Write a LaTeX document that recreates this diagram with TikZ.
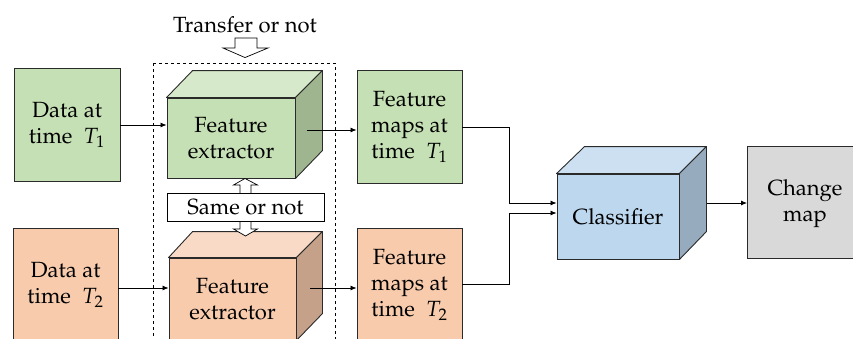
\documentclass[tikz,border=0pt]{standalone}
\usepackage[T1]{fontenc}
\usepackage{mathpazo}
\usetikzlibrary{calc,arrows.meta}
\definecolor{gfront}{HTML}{C5E0B4}
\definecolor{gtop}{HTML}{D6E9CA}
\definecolor{gside}{HTML}{9FB58F}
\definecolor{ofront}{HTML}{F8CBAD}
\definecolor{otop}{HTML}{F9DAC6}
\definecolor{oside}{HTML}{C6A18A}
\definecolor{bfront}{HTML}{BDD7EE}
\definecolor{btop}{HTML}{CCE0F2}
\definecolor{bside}{HTML}{97ABBF}
\definecolor{gray1}{HTML}{D9D9D9}
\definecolor{edge}{HTML}{2A2A2A}
\tikzset{
  box/.style={draw=edge, line width=0.9pt, inner sep=0pt, align=center,
    font=\fontsize{22}{26}\selectfont},
  face/.style={draw=edge, line width=0.9pt, line join=round},
  arr/.style={draw=black, line width=0.8pt, -{Latex[length=6pt,width=5pt]}},
  hollow/.style={draw=black, line width=0.7pt, fill=white, line join=miter},
  lbl/.style={font=\fontsize{22}{26}\selectfont, inner sep=0pt}
}
\begin{document}
\begin{tikzpicture}[x=1pt,y=-1pt]
\useasboundingbox (0,0) rectangle (853,338);
\clip (0,0) rectangle (853,338);
% input data boxes
\node[box, fill=gfront, minimum width=106pt, minimum height=113pt] (d1) at (67,124.5) {Data at\\time\ \ $T_1$};
\node[box, fill=ofront, minimum width=105pt, minimum height=113pt] (d2) at (65.5,284.5) {Data at\\time\ \ $T_2$};
% feature map boxes
\node[box, fill=gfront, minimum width=105pt, minimum height=113pt] (fm1) at (409.5,126.5) {Feature\\maps at\\time\ \ $T_1$};
\node[box, fill=ofront, minimum width=105pt, minimum height=113pt] (fm2) at (409.5,284.5) {Feature\\maps at\\time\ \ $T_2$};
% change map
\node[box, fill=gray1, minimum width=106pt, minimum height=112pt, anchor=north west] (cm) at (747,146) {};
\node[lbl, align=center] (cmt) at (805,204) {Change\\map};
% dashed region
\draw[dashed, line width=0.8pt] (153,63) -- (335,63) -- (335,345) (153,63) -- (153,345);
% cube 1 (green)
\node[box, fill=gfront, minimum width=128pt, minimum height=80pt] (fe1) at (231,138) {Feature\\extractor};
\draw[face, fill=gtop] (fe1.north west) -- ++(26,-27) -- ($(fe1.north east)+(27,-27)$) -- (fe1.north east) -- cycle;
\draw[face, fill=gside] (fe1.north east) -- ++(27,-27) -- ++(0,80) -- (fe1.south east) -- cycle;
% cube 2 (orange)
\node[box, fill=ofront, minimum width=127pt, minimum height=82pt] (fe2) at (232.5,299) {Feature\\extractor};
\draw[face, fill=otop] (fe2.north west) -- ++(24,-26) -- ($(fe2.north east)+(26,-26)$) -- (fe2.north east) -- cycle;
\draw[face, fill=oside] (fe2.north east) -- ++(26,-26) -- ++(0,82) -- (fe2.south east) -- cycle;
% classifier cube (blue)
\node[box, fill=bfront, minimum width=122pt, minimum height=85pt] (cl) at (618,216.5) {Classifier};
\draw[face, fill=btop] (cl.north west) -- ++(28,-27) -- ($(cl.north east)+(27,-27)$) -- (cl.north east) -- cycle;
\draw[face, fill=bside] (cl.north east) -- ++(27,-27) -- ++(0,85) -- (cl.south east) -- cycle;
% transfer or not
\node[lbl] (tr) at (245,25) {Transfer or not};
\coordinate (trtip) at ($(fe1.north)+(14,-40)$);
\draw[hollow] (235,38) -- (257,38) -- (257,48) -- (268,48) -- (trtip) -- (223,48) -- (235,48) -- cycle;
% same or not double arrow
\coordinate (sup1) at ($(fe1.south)+(14,0)$);
\draw[hollow] (sup1) -- (257.5,185) -- (251,185) -- (251,229) -- (257.5,229) -- (245.5,236) -- (233.5,229) -- (240,229) -- (240,185) -- (233.5,185) -- cycle;
\node[draw=black, line width=0.7pt, fill=white, minimum width=157pt, minimum height=28pt, inner sep=0pt,
  font=\fontsize{22}{26}\selectfont] (same) at (245.5,207) {Same or not};
% connectors
\draw[arr] (d1.east |- 0,125) -- (fe1.west |- 0,125);
\coordinate (o1) at (307,130);
\draw[arr] (o1) -- (o1 -| fm1.west);
\draw[arr] (d2.east |- 0,288) -- (fe2.west |- 0,288);
\coordinate (o2) at (310,288);
\draw[arr] (o2) -- (o2 -| fm2.west);
\coordinate (j1) at (509,127);
\coordinate (j2) at (509,284);
\draw[arr] (fm1.east |- j1) -- (j1) -- (509,203) -- (cl.west |- 0,203);
\draw[arr] (fm2.east |- j2) -- (j2) -- (509,213) -- (cl.west |- 0,213);
\coordinate (o3) at (707,203);
\draw[arr] (o3) -- (o3 -| cm.west);
\end{tikzpicture}
\end{document}
